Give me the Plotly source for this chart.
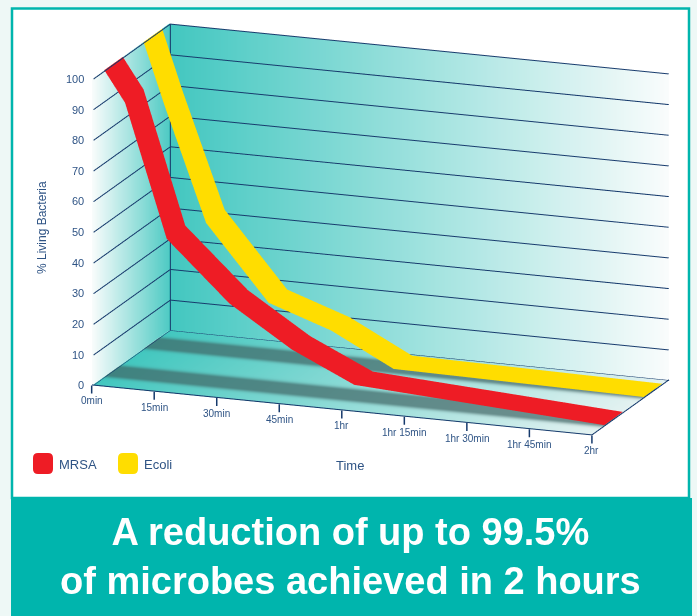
import numpy as np
import plotly.graph_objects as go

# ---------------- data ----------------
times_min = [0, 5, 15, 30, 45, 60, 120]
mrsa = [100, 90, 47, 28, 15, 5.5, 0.5]
ecoli = [100, 80, 43, 19, 12, 1.5, 0.5]
tick_minutes = [0, 15, 30, 45, 60, 75, 90, 105, 120]
tick_labels = ["0min", "15min", "30min", "45min", "1hr", "1hr 15min",
               "1hr 30min", "1hr 45min", "2hr"]
pct_ticks = [0, 10, 20, 30, 40, 50, 60, 70, 80, 90, 100]
series_names = ["MRSA", "Ecoli"]

# ---------------- style ----------------
W, H = 697, 616
RED = "#ee1c25"
YELLOW = "#ffdd00"
NAVY = "#163a6c"
LABEL = "#2f5485"
TEAL = "#00b5ad"
PAGE = "#eef8f6"
FONT = "Liberation Sans, Arial, sans-serif"
series_colors = [RED, YELLOW]
series_depth = [(0.16, 0.40), (0.67, 0.91)]   # depth band of each ribbon

WALL_L = np.array([66, 199, 192])
WALL_R = np.array([250, 252, 252])
FLOOR_L = np.array([66, 199, 191])
FLOOR_R = np.array([228, 242, 241])
SHADOW = np.array([62, 98, 98])

flat = dict(ambient=1.0, diffuse=0.0, specular=0.0, roughness=1.0, fresnel=0.0)
XMAX = tick_minutes[-1]
ZMAX = pct_ticks[-1]


def rgb(c):
    c = np.clip(np.round(c), 0, 255).astype(int)
    return "rgb(%d,%d,%d)" % tuple(c)


def grid_mesh(P, colors, name):
    nu, nv = P.shape[0], P.shape[1]
    I, J, K = [], [], []
    for a in range(nu - 1):
        for b in range(nv - 1):
            v0 = a * nv + b
            v1 = v0 + 1
            v2 = v0 + nv
            v3 = v2 + 1
            I += [v0, v1]
            J += [v2, v2]
            K += [v1, v3]
    return go.Mesh3d(x=P[..., 0].ravel(), y=P[..., 1].ravel(), z=P[..., 2].ravel(),
                     i=I, j=J, k=K, vertexcolor=[rgb(c) for c in colors.reshape(-1, 3)],
                     lighting=flat, flatshading=False, hoverinfo="skip", showlegend=False,
                     name=name)


fig = go.Figure()

# back wall (y = 1) gradient teal -> white along time
tu = np.linspace(0, XMAX, 25)
zv = np.array([0, ZMAX])
P = np.zeros((len(tu), len(zv), 3))
C = np.zeros((len(tu), len(zv), 3))
for a, t in enumerate(tu):
    f = t / XMAX
    for b, z in enumerate(zv):
        P[a, b] = (t, 1.0, z)
        C[a, b] = WALL_L * (1 - f) + WALL_R * f
fig.add_trace(grid_mesh(P, C, "backwall"))

# left wall (x = 0) gradient white (front) -> teal (back)
du = np.linspace(0, 1, 21)
P = np.zeros((len(du), len(zv), 3))
C = np.zeros((len(du), len(zv), 3))
for a, d in enumerate(du):
    for b, z in enumerate(zv):
        P[a, b] = (0.0, d, z)
        C[a, b] = WALL_R * (1 - d) + np.array([80, 203, 196]) * d
fig.add_trace(grid_mesh(P, C, "leftwall"))

# floor with soft shadows under the ribbons
tu = np.linspace(0, XMAX, 25)
du = np.linspace(0, 1, 101)
P = np.zeros((len(tu), len(du), 3))
C = np.zeros((len(tu), len(du), 3))
for a, t in enumerate(tu):
    f = t / XMAX
    base = FLOOR_L * (1 - f) + FLOOR_R * f
    for b, d in enumerate(du):
        s = 0.0
        for (d0, d1) in series_depth:
            c0, hw = (d0 + d1) / 2 - 0.02, (d1 - d0) / 2
            dist = max(abs(d - c0) - hw * 0.55, 0)
            s = max(s, np.exp(-(dist / 0.045) ** 2))
        P[a, b] = (t, d, 0.0)
        C[a, b] = base * (1 - 0.68 * s) + SHADOW * 0.68 * s
fig.add_trace(grid_mesh(P, C, "floor"))

# grid lines on left and back walls + box edges
lx, ly, lz = [], [], []
eps_x, eps_y = 0.4, 0.995
for v in pct_ticks:
    lx += [eps_x, eps_x, XMAX, None]
    ly += [0, eps_y, eps_y, None]
    lz += [v, v, v, None]
lx += [eps_x, eps_x, None, 0, XMAX, XMAX, None]
ly += [eps_y, eps_y, None, 0, 0, 1, None]
lz += [0, ZMAX, None, 0.2, 0.2, 0.2, None]
fig.add_trace(go.Scatter3d(x=lx, y=ly, z=lz, mode="lines", connectgaps=False,
                           line=dict(color=NAVY, width=2), hoverinfo="skip", showlegend=False))

# ribbons
for name, vals, col, (d0, d1) in zip(series_names, [mrsa, ecoli], series_colors, series_depth):
    fig.add_trace(go.Surface(x=times_min, y=[d0, d1], z=[vals, vals],
                             surfacecolor=[[0] * len(vals)] * 2, cmin=0, cmax=1,
                             colorscale=[[0, col], [1, col]], showscale=False,
                             lighting=flat, hoverinfo="skip", name=name,
                             contours=dict(x=dict(highlight=False), y=dict(highlight=False),
                                           z=dict(highlight=False))))

# tick labels placed in scene coordinates
scene_ann = []
for t, lab in zip(tick_minutes, tick_labels):
    scene_ann.append(dict(x=t, y=0, z=0, text=lab, showarrow=True, arrowhead=0, arrowwidth=1.5,
                          arrowcolor=NAVY, ax=0, ay=8, standoff=0, xanchor="center", yanchor="top",
                          font=dict(family=FONT, size=10, color=LABEL)))
for v in pct_ticks:
    scene_ann.append(dict(x=0, y=0, z=v, text=str(v), showarrow=False, xanchor="right",
                          yanchor="middle", xshift=-6,
                          font=dict(family=FONT, size=11, color=LABEL)))

axis_common = dict(showgrid=False, showbackground=False, zeroline=False, showline=False,
                   showspikes=False, showticklabels=False, ticks="", title=dict(text=""))
fig.update_layout(
    width=W, height=H, margin=dict(l=0, r=0, t=0, b=0),
    paper_bgcolor=PAGE, plot_bgcolor=PAGE, showlegend=False,
    scene=dict(
        domain=dict(x=[0.07, 1], y=[0.229, 1]),
        bgcolor="rgba(0,0,0,0)",
        xaxis=dict(range=[0, XMAX], **axis_common),
        yaxis=dict(range=[0, 1], **axis_common),
        zaxis=dict(range=[0, ZMAX], **axis_common),
        aspectmode="manual", aspectratio=dict(x=2.248, y=0.928, z=1.34),
        camera=dict(eye=dict(x=0.986, y=-2.727, z=0.770),
                    center=dict(x=-0.0265, y=-0.0194, z=-0.0321),
                    up=dict(x=0, y=0, z=1), projection=dict(type="orthographic")),
        annotations=scene_ann,
    ),
)


def px(x):
    return x / W


def py(y):
    return 1 - y / H


shapes = [
    dict(type="rect", xref="paper", yref="paper", x0=px(12), x1=px(689), y0=py(498), y1=py(8.5),
         fillcolor="white", line=dict(color=TEAL, width=2.5), layer="below"),
    dict(type="rect", xref="paper", yref="paper", x0=px(11), x1=px(692), y0=py(616), y1=py(498),
         fillcolor=TEAL, line=dict(width=0), layer="below"),
]


def rounded(x0, y0, x1, y1, r):
    X = lambda v: px(v)
    Y = lambda v: py(v)
    return ("M %f,%f L %f,%f Q %f,%f %f,%f L %f,%f Q %f,%f %f,%f L %f,%f Q %f,%f %f,%f "
            "L %f,%f Q %f,%f %f,%f Z" % (
                X(x0 + r), Y(y0), X(x1 - r), Y(y0), X(x1), Y(y0), X(x1), Y(y0 + r),
                X(x1), Y(y1 - r), X(x1), Y(y1), X(x1 - r), Y(y1),
                X(x0 + r), Y(y1), X(x0), Y(y1), X(x0), Y(y1 - r),
                X(x0), Y(y0 + r), X(x0), Y(y0), X(x0 + r), Y(y0)))


annotations = []
legend_x = [33, 118]
for name, col, lx0 in zip(series_names, series_colors, legend_x):
    shapes.append(dict(type="path", xref="paper", yref="paper", path=rounded(lx0, 453, lx0 + 20, 474, 5),
                       fillcolor=col, line=dict(width=0), layer="above"))
    annotations.append(dict(xref="paper", yref="paper", x=px(lx0 + 24), y=py(464), text=name,
                            showarrow=False, xanchor="left", yanchor="middle",
                            font=dict(family=FONT, size=13, color=LABEL)))

annotations += [
    dict(xref="paper", yref="paper", x=px(42), y=py(228), text="% Living Bacteria", textangle=-90,
         showarrow=False, xanchor="center", yanchor="middle",
         font=dict(family=FONT, size=12, color=LABEL)),
    dict(xref="paper", yref="paper", x=px(350), y=py(465), text="Time",
         showarrow=False, xanchor="center", yanchor="middle",
         font=dict(family=FONT, size=13, color=LABEL)),
    dict(xref="paper", yref="paper", x=px(351), y=py(556),
         text="A reduction of up to 99.5%<br>of microbes achieved in 2 hours",
         showarrow=False, xanchor="center", yanchor="middle",
         font=dict(family=FONT, size=38, color="white", weight="bold")),
]
fig.update_layout(shapes=shapes, annotations=annotations)

fig.write_html("out.html", config={"displayModeBar": False},
               post_script="document.body.style.margin='0px';")
